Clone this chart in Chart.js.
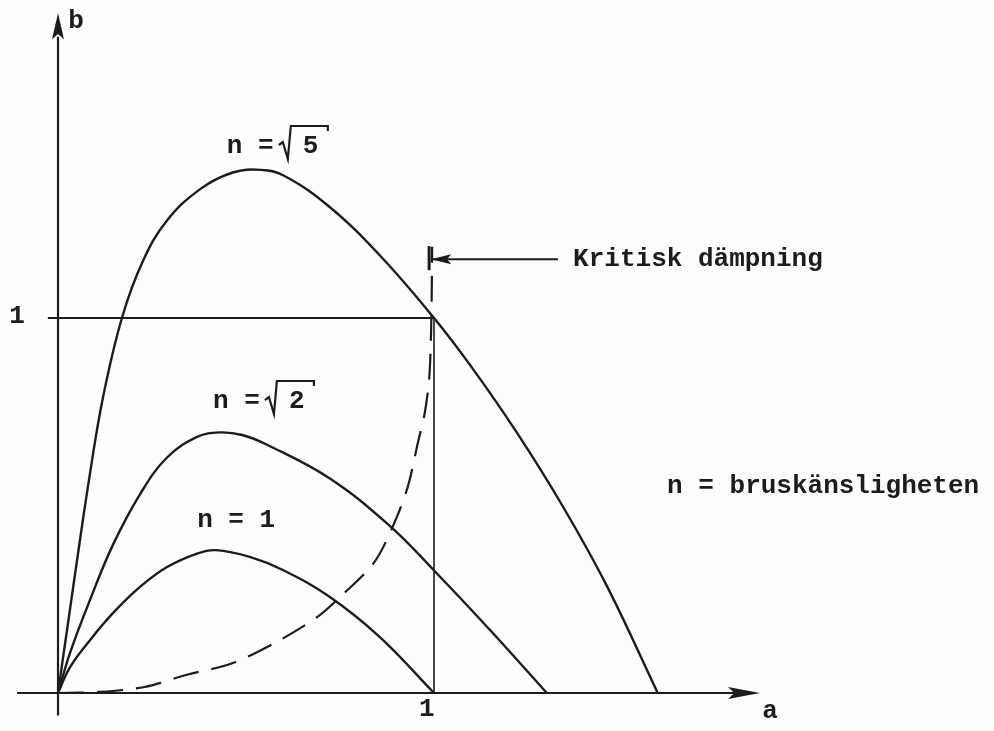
<!DOCTYPE html>
<html>
<head>
<meta charset="utf-8">
<script src="https://cdn.jsdelivr.net/npm/chart.js@4/dist/chart.umd.min.js"></script>
<style>
  html,body{margin:0;padding:0;background:#fdfdfc;}
  canvas{display:block;}
</style>
</head>
<body>
<canvas id="damp" width="994" height="731"></canvas>
<script>
// curve samples (a, b) per noise sensitivity n
const aN1    = [0, 0.032, 0.085, 0.146, 0.218, 0.29, 0.37, 0.42, 0.51, 0.598, 0.723, 0.856, 1.0];
const bN1    = [0, 0.069, 0.141, 0.213, 0.283, 0.336, 0.372, 0.381, 0.363, 0.328, 0.256, 0.149, 0];
const aSqrt2 = [0, 0.032, 0.085, 0.146, 0.218, 0.29, 0.37, 0.43, 0.49, 0.556, 0.723, 0.883, 0.997, 1.149, 1.30];
const bSqrt2 = [0, 0.107, 0.248, 0.395, 0.53, 0.628, 0.683, 0.695, 0.688, 0.662, 0.572, 0.445, 0.33, 0.168, 0];
const aSqrt5 = [0, 0.012, 0.025, 0.05, 0.085, 0.12, 0.17, 0.225, 0.29, 0.38, 0.465, 0.54, 0.6, 0.72, 0.855, 1.0, 1.1, 1.22, 1.34, 1.46, 1.595];
const bSqrt5 = [0, 0.085, 0.175, 0.35, 0.585, 0.79, 1.0, 1.15, 1.26, 1.345, 1.388, 1.395, 1.38, 1.298, 1.168, 1.0, 0.869, 0.695, 0.502, 0.285, 0];
// critical damping boundary (dashed)
const aCrit  = [0, 0.11, 0.23, 0.34, 0.465, 0.59, 0.69, 0.75, 0.84, 0.89, 0.93, 0.957, 0.976, 0.988, 0.993, 0.995];
const bCrit  = [0, 0.003, 0.016, 0.048, 0.08, 0.141, 0.203, 0.256, 0.347, 0.443, 0.549, 0.667, 0.75, 0.85, 1.0, 1.19];

const curveNames = ['n = 1', 'n = \u221A2', 'n = \u221A5'];
const aTicks = [1];
const bTicks = [1];
const tickText = ['1'];
const axisNames = ['a', 'b'];
const noteCritical = 'Kritisk d\u00E4mpning';
const noteN = 'n = bruskänsligheten';

// axis extents and reference lines (data units)
const aAxis = [-0.109, 1.80];
const bAxis = [-0.06, 1.75];
const critArrowA = [0.995, 1.33];
const critArrowB = 1.157;

const INK = '#1c1c1c';
const FONT = 'bold 26px "Liberation Mono", "DejaVu Sans Mono", monospace';

function pts(xs, ys){ return xs.map((x,i)=>({x:x, y:ys[i]})); }

function line(data, extra){
  return Object.assign({
    data: data, showLine: true, pointRadius: 0, borderColor: INK,
    borderWidth: 2.4, fill: false, tension: 0
  }, extra || {});
}

const decor = {
  id: 'decor',
  afterDatasetsDraw(chart){
    const ctx = chart.ctx, X = chart.scales.x, Y = chart.scales.y;
    const px = v => X.getPixelForValue(v), py = v => Y.getPixelForValue(v);
    ctx.save();
    ctx.fillStyle = INK; ctx.strokeStyle = INK;

    // arrowheads on the axes
    function head(tx, ty, dx, dy, len, half){
      ctx.beginPath();
      ctx.moveTo(tx, ty);
      ctx.lineTo(tx - dx*len - dy*half, ty - dy*len + dx*half);
      ctx.lineTo(tx - dx*len*0.8, ty - dy*len*0.8);
      ctx.lineTo(tx - dx*len + dy*half, ty - dy*len - dx*half);
      ctx.closePath();
      ctx.fill();
    }
    head(px(1.867), py(0), 1, 0, 32, 6);
    head(px(0), py(1.813), 0, -1, 26, 6);

    // arrow pointing at the critical-damping line
    const ax = px(critArrowA[0]) - 2, ay = py(critArrowB);
    head(ax + 1, ay, -1, 0, 20, 5);
    ctx.lineWidth = 3;
    ctx.beginPath(); ctx.moveTo(ax - 1, ay - 13); ctx.lineTo(ax - 1, ay + 11); ctx.stroke();

    ctx.font = FONT;
    ctx.textBaseline = 'alphabetic';
    ctx.textAlign = 'left';

    // curve labels, square roots drawn as a radical path
    const labelPos = [[0.370, 0.443], [0.412, 0.760], [0.449, 1.44]];
    curveNames.forEach((name, i) => {
      const x = px(labelPos[i][0]), y = py(labelPos[i][1]);
      const k = name.indexOf('\u221A');
      if (k < 0) { ctx.fillText(name, x, y); return; }
      ctx.fillText(name.slice(0, k).trimEnd(), x, y);
      ctx.fillText(name.slice(k + 1), x + 76, y);
      ctx.lineWidth = 2.2;
      ctx.beginPath();
      ctx.moveTo(x + 52, y - 8);
      ctx.lineTo(x + 56, y - 11);
      ctx.lineTo(x + 61, y + 6);
      ctx.lineTo(x + 64, y - 27);
      ctx.lineTo(x + 101, y - 27);
      ctx.lineTo(x + 101, y - 22);
      ctx.stroke();
    });

    ctx.fillText(noteCritical, px(1.370), py(1.139));
    ctx.fillText(noteN, px(1.620), py(0.533));

    // tick labels and axis names
    ctx.textAlign = 'center'; ctx.textBaseline = 'middle';
    aTicks.forEach((v, i) => ctx.fillText(tickText[i], px(v - 0.019), py(-0.043)));
    bTicks.forEach((v, i) => ctx.fillText(tickText[i], px(-0.109), py(v + 0.003)));
    ctx.fillText(axisNames[0], px(1.894), py(-0.048));
    ctx.fillText(axisNames[1], px(0.048), py(1.790));
    ctx.restore();
  }
};

new Chart(document.getElementById('damp').getContext('2d'), {
  type: 'scatter',
  data: {
    datasets: [
      line(pts(aAxis, [0, 0]), {borderWidth: 2.2}),
      line(pts([0, 0], bAxis), {borderWidth: 2.2}),
      line(pts([-0.027, aTicks[0]], [bTicks[0], bTicks[0]]), {borderWidth: 2}),
      line(pts([aTicks[0], aTicks[0]], [0, bTicks[0]]), {borderWidth: 1.6}),
      line(pts(critArrowA, [critArrowB, critArrowB]), {borderWidth: 2}),
      line(pts(aN1, bN1), {tension: 0.4}),
      line(pts(aSqrt2, bSqrt2), {tension: 0.4}),
      line(pts(aSqrt5, bSqrt5), {tension: 0.4}),
      line(pts(aCrit, bCrit), {borderDash: [26, 13], tension: 0.3, borderWidth: 2.2})
    ]
  },
  options: {
    responsive: false,
    animation: false,
    layout: {padding: 0},
    plugins: {legend: {display: false}, tooltip: {enabled: false}},
    scales: {
      x: {type: 'linear', min: -0.1543, max: 2.4894, display: false},
      y: {type: 'linear', min: -0.1013, max: 1.848, display: false}
    }
  },
  plugins: [decor]
});
</script>
</body>
</html>
